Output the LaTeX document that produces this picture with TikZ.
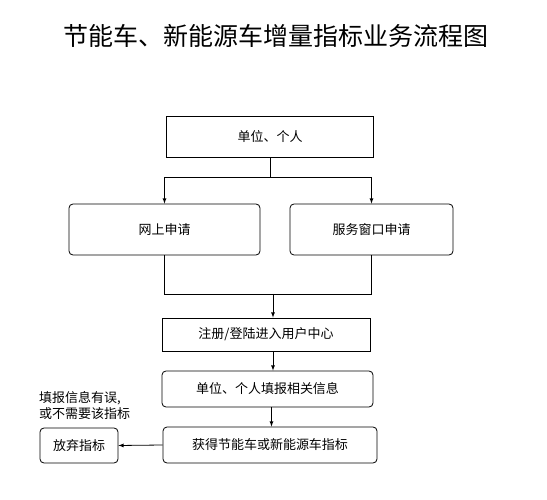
\documentclass[tikz,border=0pt]{standalone}
\usepackage{fontspec}
\newfontfamily\cjk{Noto Sans CJK SC}
\usetikzlibrary{arrows, positioning, calc}

\begin{document}
\begin{tikzpicture}[
    x=1pt, y=-1pt,
    stepbox/.style={rectangle, draw, line width=0.8pt, font=\cjk\fontsize{13}{15}\selectfont, inner sep=0pt},
    roundbox/.style={stepbox, rounded corners=4pt},
    link/.style={line width=0.8pt},
    flow/.style={->, >=latex, line width=0.8pt}
]
\useasboundingbox (0,0) rectangle (547,500);

% Title
\node[font=\cjk\fontsize{25}{28}\selectfont] (title) at (276,36) {节能车、新能源车增量指标业务流程图};

% Boxes
\node[stepbox, minimum width=207pt, minimum height=41pt] at (270,136.5) (b1) {单位、个人};
\node[roundbox, minimum width=191pt, minimum height=51pt] at (164.5,229.5) (b2) {网上申请};
\node[roundbox, minimum width=163pt, minimum height=51pt] at (371.5,229.5) (b3) {服务窗口申请};
\node[stepbox, minimum width=208pt, minimum height=33pt] at (266,334.5) (b4) {注册/登陆进入用户中心};
\node[roundbox, minimum width=211pt, minimum height=36pt] at (267.5,389) (b5) {单位、个人填报相关信息};
\node[roundbox, minimum width=214pt, minimum height=36pt] at (270,445) (b6) {获得节能车或新能源车指标};
\node[roundbox, minimum width=78pt, minimum height=35pt] at (79,445.5) (b7) {放弃指标};

% Note
\node[font=\cjk\fontsize{13}{16}\selectfont, align=left, anchor=west, inner sep=0pt] at (39,406) (note) {填报信息有误,\\或不需要该指标};

% Split
\coordinate (j1) at (270,177);
\draw[link] (b1.south) -- (j1);
\draw[flow] (j1) -| (b2.north);
\draw[flow] (j1) -| (b3.north);

% Merge
\coordinate (j2) at (273,294);
\draw[link] (b2.south) |- (j2);
\draw[link] (b3.south) |- (j2);
\draw[flow] (j2) -- (b4.north -| j2);

\draw[flow] (b4.south -| j2) -- (b5.north -| j2);
\draw[flow] ($(b5.south)+(4,0)$) -- ($(b6.north)+(1.5,0)$);
\draw[flow] (b6.west) -- (b7.east);

\end{tikzpicture}
\end{document}
